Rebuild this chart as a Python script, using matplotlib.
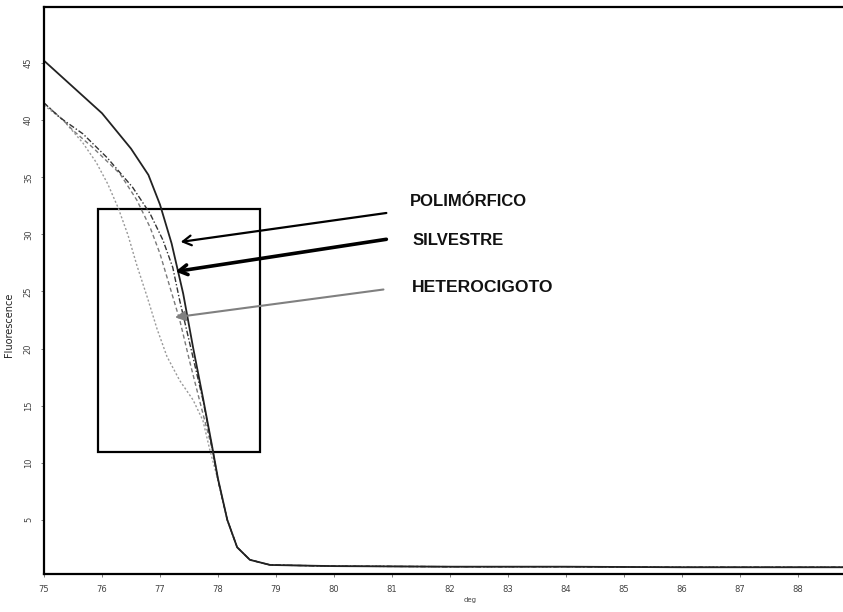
import matplotlib
matplotlib.use("Agg")
import matplotlib.pyplot as plt
from matplotlib.patches import Rectangle

# ---- data ----
x_a = [75.0, 75.5, 76.0, 76.5, 76.8, 77.0, 77.2, 77.4, 77.57, 77.74, 77.9, 78.0, 78.16, 78.33, 78.55, 78.9, 80.0, 82.0, 84.0, 86.0, 88.8]
y_a = [45.2, 42.9, 40.6, 37.5, 35.2, 32.6, 29.2, 24.8, 20.1, 15.7, 11.4, 8.6, 5.0, 2.6, 1.5, 1.05, 0.95, 0.9, 0.9, 0.85, 0.85]

x_b = [75.0, 75.28, 75.67, 76.09, 76.53, 76.83, 77.05, 77.22, 77.34, 77.52, 77.74, 77.9, 78.0, 78.16, 78.33, 78.55, 78.9, 80.0, 82.0, 84.0, 86.0, 88.8]
y_b = [41.5, 40.2, 38.8, 36.7, 34.1, 31.8, 29.5, 27.1, 24.2, 20.3, 15.5, 11.3, 8.5, 5.0, 2.6, 1.5, 1.05, 0.95, 0.9, 0.9, 0.85, 0.85]

x_c = [75.0, 75.33, 75.5, 75.84, 76.31, 76.6, 76.83, 77.0, 77.17, 77.34, 77.52, 77.74, 77.9, 78.0, 78.16, 78.33, 78.55, 78.9, 80.0, 82.0, 84.0, 86.0, 88.8]
y_c = [41.5, 40.0, 39.1, 37.6, 35.3, 33.0, 30.6, 28.3, 25.4, 22.5, 18.7, 14.3, 11.2, 8.5, 5.0, 2.6, 1.5, 1.05, 0.95, 0.9, 0.9, 0.85, 0.85]

x_d = [75.0, 75.33, 75.67, 75.9, 76.1, 76.28, 76.45, 76.6, 76.78, 76.95, 77.12, 77.34, 77.57, 77.74, 77.86, 78.0, 78.16, 78.33, 78.55, 78.9, 80.0, 82.0, 84.0, 86.0, 88.8]
y_d = [41.3, 40.0, 38.0, 36.3, 34.4, 32.3, 29.9, 27.3, 24.5, 21.7, 19.3, 17.2, 15.5, 13.7, 11.1, 8.5, 5.0, 2.6, 1.5, 1.05, 0.95, 0.9, 0.9, 0.85, 0.85]

x_ticks = [75, 76, 77, 78, 79, 80, 81, 82, 83, 84, 85, 86, 87, 88]
y_ticks = [5, 10, 15, 20, 25, 30, 35, 40, 45]

labels = ["POLIMÓRFICO", "SILVESTRE", "HETEROCIGOTO"]
label_xy = [(81.31, 32.9), (81.36, 29.5), (81.34, 25.3)]
label_size = [12.0, 12.0, 12.6]
arrow_from = [(80.95, 31.9), (80.95, 29.6), (80.9, 25.2)]
arrow_to = [(77.31, 29.3), (77.22, 26.7), (77.21, 22.7)]

box_x = (75.93, 78.72)
box_y = (10.9, 32.2)

# ---- figure ----
fig = plt.figure(figsize=(8.43, 6.12), dpi=100)
ax = fig.add_axes([44 / 843, 1 - 574 / 612, 1 - 44 / 843, (574 - 7) / 612])
ax.set_xlim(75, 75 + (843 - 44) / 58)
ax.set_ylim(0.26, 49.9)

ax.plot(x_d, y_d, color="#9a9a9a", lw=1.0, ls=(0, (1.5, 1.5)))
ax.plot(x_c, y_c, color="#7a7a7a", lw=1.0, ls=(0, (3, 2)))
ax.plot(x_b, y_b, color="#333333", lw=1.0, ls=(0, (4, 1.5, 1, 1.5)))
ax.plot(x_a, y_a, color="#222222", lw=1.3)

ax.add_patch(Rectangle((box_x[0], box_y[0]), box_x[1] - box_x[0], box_y[1] - box_y[0],
                       fill=False, edgecolor="black", lw=1.6))

styles = [
    dict(arrowstyle="->,head_length=0.6,head_width=0.35", color="black", lw=1.6),
    dict(arrowstyle="->,head_length=0.6,head_width=0.35", color="black", lw=2.6),
    dict(arrowstyle="-|>,head_length=0.6,head_width=0.3", color="#808080", lw=1.5),
]
for lab, txy, fs, fxy, t2, st in zip(labels, label_xy, label_size, arrow_from, arrow_to, styles):
    ax.annotate("", xy=t2, xytext=fxy, arrowprops=st)
    ax.text(txy[0], txy[1], lab, fontsize=fs, fontweight="bold", family="Liberation Sans",
            ha="left", va="center", color="#111111")

for s in ["left", "top", "bottom"]:
    ax.spines[s].set_linewidth(1.6)
    ax.spines[s].set_color("black")
ax.spines["right"].set_visible(False)

ax.set_xticks(x_ticks)
ax.set_xticklabels([str(v) for v in x_ticks], fontsize=6, color="#444444")
ax.set_yticks(y_ticks)
ax.set_yticklabels([str(v) for v in y_ticks], fontsize=6, color="#444444", rotation=90, va="center")
ax.tick_params(axis="both", length=2, width=0.6, pad=6, color="#666666")

ax.set_ylabel("Fluorescence", fontsize=7, color="#222222")
ax.yaxis.set_label_coords(-0.038, 0.44)
ax.set_xlabel("deg", fontsize=5, color="#444444")
ax.xaxis.set_label_coords((470 - 44) / (843 - 44), -0.04)

fig.savefig("out.png", dpi=100)
